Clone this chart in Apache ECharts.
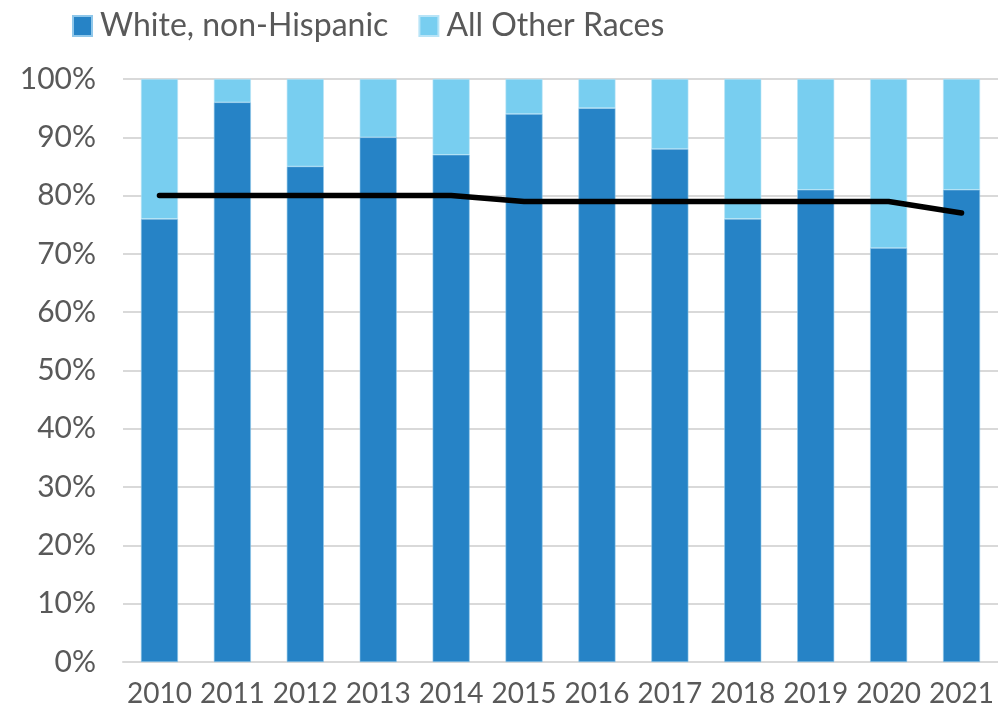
<!DOCTYPE html>
<html><head><meta charset="utf-8">
<script src="https://cdn.jsdelivr.net/npm/echarts@6/dist/echarts.min.js"></script>
<style>html,body{margin:0;padding:0;background:#fff}#c{width:998px;height:708px}</style>
</head><body><div id="c"></div>
<script>
const years = ['2010','2011','2012','2013','2014','2015','2016','2017','2018','2019','2020','2021'];
const white = [76,96,85,90,87,94,95,88,76,81,71,81];
const other = [24,4,15,10,13,6,5,12,24,19,29,19];
const lineVals = [80,80,80,80,80,79,79,79,79,79,79,77];
const yTicks = [0,10,20,30,40,50,60,70,80,90,100];

const font = 'Lato, "DejaVu Sans", sans-serif';
const chart = echarts.init(document.getElementById('c'));
chart.setOption({
  animation:false,
  legend:{
    data:['White, non-Hispanic','All Other Races'],
    left:67, top:5, itemWidth:19, itemHeight:20, itemGap:30,
    icon:'rect',
    textStyle:{fontFamily:font, fontSize:32, color:'#595959', padding:[0,0,0,3]}
  },
  grid:{left:123, top:79, width:882, bottom:45, containLabel:false},
  xAxis:{
    type:'category', data:years,
    axisLine:{show:true, lineStyle:{color:'#d9d9d9', width:2}},
    axisTick:{show:false},
    axisLabel:{fontFamily:font, fontSize:28, color:'#595959', margin:18, interval:0, hideOverlap:false}
  },
  yAxis:{
    type:'value', min:0, max:100, interval:10,
    axisLine:{show:false}, axisTick:{show:false},
    splitLine:{lineStyle:{color:'#d9d9d9', width:2}},
    axisLabel:{fontFamily:font, fontSize:30, color:'#595959', margin:27,
      formatter:v=>yTicks.includes(v)?v+'%':''}
  },
  series:[
    {name:'White, non-Hispanic', type:'bar', stack:'s', data:white, barWidth:37,
      itemStyle:{color:'#2683C6', borderColor:'#8fc7ea', borderWidth:0.6}},
    {name:'All Other Races', type:'bar', stack:'s', data:other, barWidth:37,
      itemStyle:{color:'#78CEF0', borderColor:'#b8e4f7', borderWidth:0.6}},
    {name:'line', type:'line', data:lineVals, symbol:'none', z:10,
      lineStyle:{color:'#000', width:5.5, cap:'round', join:'round'}}
  ]
});
</script></body></html>
